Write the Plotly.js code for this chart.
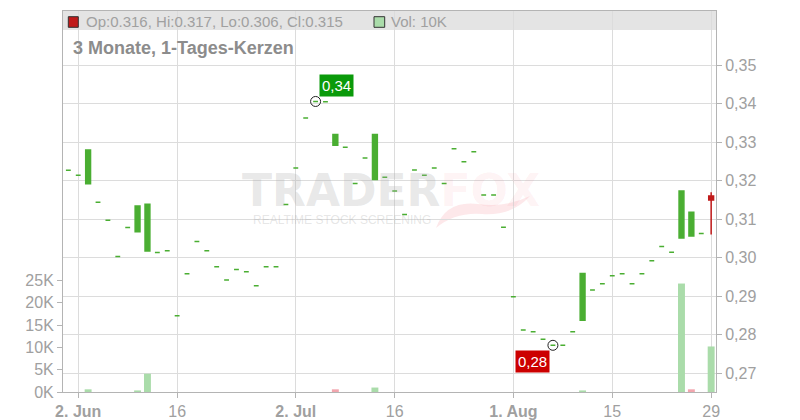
<!DOCTYPE html>
<html><head><meta charset="utf-8">
<script src="https://cdn.plot.ly/plotly-3.0.1.min.js"></script>
<style>html,body{margin:0;padding:0;background:#fff;}#chart{width:800px;height:420px;}</style>
</head><body><div id="chart"></div>
<script>
// ---- data ----
const dates = ['2025-05-30',
 '2025-06-02','2025-06-03','2025-06-04','2025-06-05','2025-06-06',
 '2025-06-09','2025-06-10','2025-06-11','2025-06-12','2025-06-13',
 '2025-06-16','2025-06-17','2025-06-18','2025-06-19','2025-06-20',
 '2025-06-23','2025-06-24','2025-06-25','2025-06-26','2025-06-27',
 '2025-06-30','2025-07-01','2025-07-02','2025-07-03','2025-07-04',
 '2025-07-07','2025-07-08','2025-07-09','2025-07-10','2025-07-11',
 '2025-07-14','2025-07-15','2025-07-16','2025-07-17','2025-07-18',
 '2025-07-21','2025-07-22','2025-07-23','2025-07-24','2025-07-25',
 '2025-07-28','2025-07-29','2025-07-30','2025-07-31','2025-08-01',
 '2025-08-04','2025-08-05','2025-08-06','2025-08-07','2025-08-08',
 '2025-08-11','2025-08-12','2025-08-13','2025-08-14','2025-08-15',
 '2025-08-18','2025-08-19','2025-08-20','2025-08-21','2025-08-22',
 '2025-08-25','2025-08-26','2025-08-27','2025-08-28','2025-08-29'];

const opens = [0.3227,
 0.3214,0.3192,0.3144,0.3097,0.3003, 0.3078,0.3067,0.3017,0.3013,0.3018,
 0.2849,0.2958,0.3042,0.3018,0.2976, 0.2942,0.2969,0.2963,0.2927,0.2976,
 0.2976,0.3138,0.3233,0.3363,0.3406, 0.3405,0.3292,0.3287,0.3193,0.3259,
 0.3203,0.3209,0.3173,0.3112,0.3228, 0.3214,0.3233,0.3193,0.3283,0.3249,
 0.3275,0.3163,0.3163,0.3079,0.2898, 0.2812,0.2807,0.2788,0.2772,0.2772,
 0.2807,0.2837,0.2916,0.2932,0.2953, 0.2958,0.2932,0.2958,0.2992,0.3029,
 0.3014,0.3051,0.3056,0.3063,0.3160];
const highs = [0.3227,
 0.3214,0.3280,0.3144,0.3097,0.3003, 0.3078,0.3134,0.3139,0.3013,0.3018,
 0.2849,0.2958,0.3042,0.3018,0.2976, 0.2942,0.2969,0.2963,0.2927,0.2976,
 0.2976,0.3138,0.3233,0.3363,0.3406, 0.3405,0.3320,0.3287,0.3193,0.3259,
 0.3320,0.3209,0.3173,0.3112,0.3228, 0.3214,0.3233,0.3193,0.3283,0.3249,
 0.3275,0.3163,0.3163,0.3079,0.2898, 0.2812,0.2807,0.2788,0.2772,0.2772,
 0.2807,0.2959,0.2916,0.2932,0.2953, 0.2958,0.2932,0.2958,0.2992,0.3029,
 0.3014,0.3173,0.3118,0.3063,0.3170];
const lows = [0.3227,
 0.3214,0.3192,0.3144,0.3097,0.3003, 0.3078,0.3067,0.3017,0.3013,0.3018,
 0.2849,0.2958,0.3042,0.3018,0.2976, 0.2942,0.2969,0.2963,0.2927,0.2976,
 0.2976,0.3138,0.3233,0.3363,0.3406, 0.3405,0.3292,0.3287,0.3193,0.3259,
 0.3203,0.3209,0.3173,0.3112,0.3228, 0.3214,0.3233,0.3193,0.3283,0.3249,
 0.3275,0.3163,0.3163,0.3079,0.2898, 0.2812,0.2807,0.2788,0.2772,0.2772,
 0.2807,0.2837,0.2916,0.2932,0.2953, 0.2958,0.2932,0.2958,0.2992,0.3029,
 0.3014,0.3051,0.3056,0.3063,0.3060];
const closes = [0.3227,
 0.3214,0.3280,0.3144,0.3097,0.3003, 0.3078,0.3134,0.3139,0.3013,0.3018,
 0.2849,0.2958,0.3042,0.3018,0.2976, 0.2942,0.2969,0.2963,0.2927,0.2976,
 0.2976,0.3138,0.3233,0.3363,0.3406, 0.3405,0.3320,0.3287,0.3193,0.3259,
 0.3320,0.3209,0.3173,0.3112,0.3228, 0.3214,0.3233,0.3193,0.3283,0.3249,
 0.3275,0.3163,0.3163,0.3079,0.2898, 0.2812,0.2807,0.2788,0.2772,0.2772,
 0.2807,0.2959,0.2916,0.2932,0.2953, 0.2958,0.2932,0.2958,0.2992,0.3029,
 0.3014,0.3173,0.3118,0.3063,0.3150];
const volumes = [0,
 0,600,0,0,0, 0,350,4100,0,0,
 0,0,0,0,0, 0,0,0,0,0,
 0,0,0,0,0, 0,600,0,0,0,
 1000,0,0,0,0, 0,0,0,0,0,
 0,0,0,0,0, 0,0,0,0,0,
 0,350,0,0,0, 0,0,0,0,0,
 0,24300,600,0,10200];

const xTickDates  = ['2025-06-02','2025-06-16','2025-07-02','2025-07-16','2025-08-01','2025-08-15','2025-08-29'];
const xTickLabels = ['<b>2. Jun</b>','16','<b>2. Jul</b>','16','<b>1. Aug</b>','15','29'];
const priceTicks  = [0.27,0.28,0.29,0.30,0.31,0.32,0.33,0.34,0.35];
const priceTickLabels = ['0,27','0,28','0,29','0,30','0,31','0,32','0,33','0,34','0,35'];
const volTicks  = [0,5000,10000,15000,20000,25000];
const volTickLabels = ['0K','5K','10K','15K','20K','25K'];
const chartTitle = '3 Monate, 1-Tages-Kerzen';

// ---- styling / layout helpers ----
const FONT = 'Liberation Sans, Arial, sans-serif';
const GREEN = '#4aae32', RED = '#c01a1a';
const VGREEN = '#aadcaa', VRED = '#f2a6ae';
const PL = 63, PR = 716, PT = 11, PB = 392;
const px = x => (x - PL) / (PR - PL);
const py = y => (PB - y) / (PB - PT);

const n = dates.length;
const last = n - 1;
const volColors = volumes.map((v, i) => (i === 0 || closes[i] >= closes[i-1]) ? VGREEN : VRED);

let hiI = 0, loI = 0;
for (let i = 0; i < n; i++) { if (highs[i] > highs[hiI]) hiI = i; if (lows[i] < lows[loI]) loI = i; }
const fmtC = v => v.toFixed(2).replace('.', ',');
const fmtVol = v => Math.round(v/1000) + 'K';

const traces = [
  { type: 'bar', x: dates, y: volumes, yaxis: 'y', xaxis: 'x', width: 0.7,
    marker: { color: volColors, line: { width: 0 } }, hoverinfo: 'skip', showlegend: false },
  { type: 'candlestick', x: dates.slice(0, last), open: opens.slice(0, last), high: highs.slice(0, last),
    low: lows.slice(0, last), close: closes.slice(0, last), yaxis: 'y2', xaxis: 'x',
    increasing: { line: { color: GREEN, width: 1.5 }, fillcolor: GREEN },
    decreasing: { line: { color: GREEN, width: 1.5 }, fillcolor: GREEN },
    whiskerwidth: 0, hoverinfo: 'skip', showlegend: false },
  { type: 'candlestick', x: dates.slice(last), open: opens.slice(last), high: highs.slice(last),
    low: lows.slice(last), close: closes.slice(last), yaxis: 'y2', xaxis: 'x',
    increasing: { line: { color: GREEN, width: 1.5 }, fillcolor: GREEN },
    decreasing: { line: { color: RED, width: 1.5 }, fillcolor: RED },
    whiskerwidth: 0, hoverinfo: 'skip', showlegend: false },
  { type: 'scatter', mode: 'markers', x: [dates[hiI], dates[loI]], y: [highs[hiI], lows[loI]],
    yaxis: 'y2', xaxis: 'x',
    marker: { symbol: 'circle-open', size: 10, color: '#222', line: { width: 1, color: '#222' } },
    hoverinfo: 'skip', showlegend: false }
];

// fox-tail swoosh of the watermark logo (pixel coords -> paper)
const P = (x, y) => px(x).toFixed(4) + ',' + py(y).toFixed(4);
const foxPath = 'M ' + P(436, 228) + ' Q ' + P(446, 200) + ' ' + P(478, 204) +
  ' Q ' + P(505, 208) + ' ' + P(530, 196) + ' Q ' + P(512, 216) + ' ' + P(482, 214) +
  ' Q ' + P(455, 212) + ' ' + P(436, 228) + ' Z';

const tickFont = { family: FONT, size: 16, color: '#a0a0a0' };
const layout = {
  width: 800, height: 420,
  margin: { l: PL, r: 800 - PR, t: PT, b: 420 - PB, pad: 0 },
  paper_bgcolor: '#fff', plot_bgcolor: '#fff',
  showlegend: false,
  xaxis: {
    type: 'category', categoryorder: 'array', categoryarray: dates,
    range: [-0.54, 65.49], tickvals: xTickDates, ticktext: xTickLabels,
    showgrid: true, gridcolor: '#dcdcdc', gridwidth: 1,
    showline: true, linecolor: '#b4b4b4', linewidth: 1, mirror: true,
    ticks: 'outside', ticklen: 5, tickcolor: '#b4b4b4', tickfont: tickFont,
    rangeslider: { visible: false }, fixedrange: true
  },
  yaxis: {
    side: 'left', range: [0, 85350], tickvals: volTicks, ticktext: volTickLabels,
    showgrid: false, zeroline: false, showline: true, linecolor: '#b4b4b4', linewidth: 1,
    ticks: 'outside', ticklen: 5, tickcolor: '#b4b4b4', tickfont: tickFont, fixedrange: true
  },
  yaxis2: {
    overlaying: 'y', side: 'right', range: [0.26506, 0.36412],
    tickvals: priceTicks, ticktext: priceTickLabels,
    showgrid: true, gridcolor: '#dcdcdc', gridwidth: 1, zeroline: false,
    showline: true, linecolor: '#b4b4b4', linewidth: 1,
    ticks: 'outside', ticklen: 5, tickcolor: '#b4b4b4', tickfont: tickFont, fixedrange: true
  },
  shapes: [
    { type: 'rect', xref: 'paper', yref: 'paper', x0: 0, x1: 1, y0: py(30), y1: 1,
      fillcolor: '#e4e4e4', line: { width: 0 }, layer: 'below' },
    { type: 'path', xref: 'paper', yref: 'paper', path: foxPath,
      fillcolor: 'rgba(245,110,125,0.16)', line: { width: 0 }, layer: 'below' },
    { type: 'rect', xref: 'paper', yref: 'paper', x0: px(68.3), x1: px(78.3), y0: py(27.3), y1: py(16.7),
      fillcolor: RED, line: { color: '#333', width: 1 }, layer: 'above' },
    { type: 'rect', xref: 'paper', yref: 'paper', x0: px(374), x1: px(384.7), y0: py(27.3), y1: py(16.7),
      fillcolor: VGREEN, line: { color: '#333', width: 1 }, layer: 'above' }
  ],
  annotations: [
    { xref: 'paper', yref: 'paper', x: px(240), y: py(190), xanchor: 'left', yanchor: 'middle', showarrow: false,
      text: '<b>TRADER<span style="fill:rgba(240,90,110,0.3)">FOX</span></b>',
      font: { family: 'DejaVu Sans', size: 44, color: 'rgba(170,170,170,0.27)' } },
    { xref: 'paper', yref: 'paper', x: px(251), y: py(220), xanchor: 'left', yanchor: 'middle', showarrow: false,
      text: 'REALTIME STOCK SCREENING',
      font: { family: FONT, size: 12, color: 'rgba(170,170,170,0.3)' } },
    { xref: 'paper', yref: 'paper', x: px(84), y: py(22), xanchor: 'left', yanchor: 'middle', showarrow: false,
      text: 'Op:' + opens[last].toFixed(3) + ', Hi:' + highs[last].toFixed(3) + ', Lo:' + lows[last].toFixed(3) + ', Cl:' + closes[last].toFixed(3),
      font: { family: FONT, size: 15, color: '#a0a0a0' } },
    { xref: 'paper', yref: 'paper', x: px(389), y: py(22), xanchor: 'left', yanchor: 'middle', showarrow: false,
      text: 'Vol: ' + fmtVol(volumes[last]),
      font: { family: FONT, size: 15, color: '#a0a0a0' } },
    { xref: 'paper', yref: 'paper', x: px(71), y: py(48), xanchor: 'left', yanchor: 'middle', showarrow: false,
      text: '<b>' + chartTitle + '</b>',
      font: { family: FONT, size: 18, color: '#8c8c8c' } },
    { xref: 'x', yref: 'y2', x: dates[hiI], y: highs[hiI], xanchor: 'left', yanchor: 'bottom', showarrow: false,
      xshift: 3, yshift: 4, text: fmtC(highs[hiI]), bgcolor: '#0a9a0a', borderpad: 2,
      font: { family: FONT, size: 15, color: '#fff' } },
    { xref: 'x', yref: 'y2', x: dates[loI], y: lows[loI], xanchor: 'right', yanchor: 'top', showarrow: false,
      xshift: -3, yshift: -5, text: fmtC(lows[loI]), bgcolor: '#cc0000', borderpad: 2,
      font: { family: FONT, size: 15, color: '#fff' } }
  ]
};

Plotly.newPlot('chart', traces, layout, { staticPlot: true, displayModeBar: false });
</script>
</body></html>
